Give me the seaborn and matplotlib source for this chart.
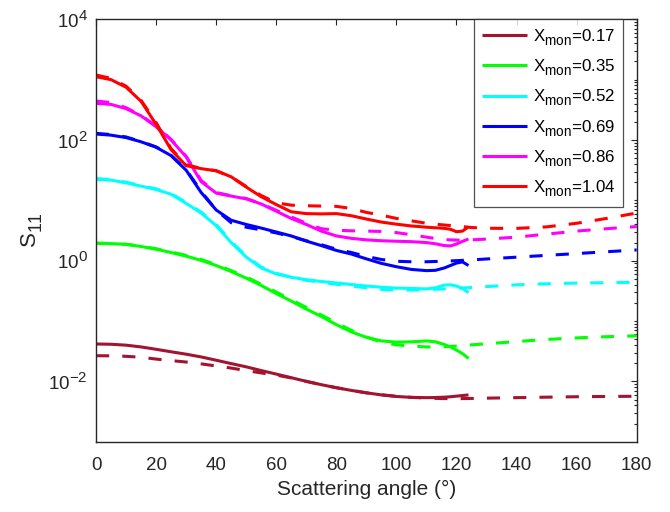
import matplotlib
matplotlib.use("Agg")
import matplotlib.pyplot as plt
import matplotlib._mathtext as _mt
import seaborn as sns
from matplotlib.ticker import FixedLocator, NullFormatter

# ---------------- data ----------------
x_mon = ["0.17", "0.35", "0.52", "0.69", "0.86", "1.04"]
colors = ["#A2142F", "#00FF00", "#00FFFF", "#0000FF", "#FF00FF", "#FF0000"]

# measured curves (solid)
ang_solid = [0, 5, 10, 15, 20, 25, 30, 35, 40, 45, 50, 55, 60, 65, 70, 75, 80, 85,
             90, 95, 100, 105, 110, 113, 116, 118, 120, 122, 124]
s_017 = [0.0416, 0.0412, 0.0398, 0.0372, 0.0340, 0.0309, 0.0282, 0.0254, 0.0224, 0.0197,
         0.0174, 0.0151, 0.0132, 0.0115, 0.0100, 0.00881, 0.00785, 0.00708, 0.00646,
         0.00596, 0.00562, 0.00543, 0.00537, 0.00540, 0.00547, 0.00556, 0.00569, 0.00582, 0.00596]
s_035 = [1.941, 1.919, 1.862, 1.718, 1.549, 1.365, 1.189, 1.012, 0.832, 0.661, 0.513, 0.389,
         0.285, 0.214, 0.158, 0.119, 0.0871, 0.0661, 0.0537, 0.0468, 0.0447, 0.0452, 0.0468,
         0.0452, 0.0407, 0.0372, 0.0331, 0.0288, 0.0240]
s_052 = [22.28, 21.63, 19.50, 17.18, 15.14, 12.59, 8.913, 6.166, 3.802, 1.995, 1.148, 0.759,
         0.603, 0.531, 0.484, 0.452, 0.427, 0.403, 0.380, 0.363, 0.351, 0.347, 0.340, 0.355,
         0.394, 0.398, 0.380, 0.347, 0.295]
s_069 = [125.6, 120.2, 109.6, 93.3, 75.9, 55.0, 31.6, 13.49, 6.918, 4.677, 3.981, 3.467, 2.985,
         2.570, 2.113, 1.778, 1.479, 1.288, 1.072, 0.902, 0.794, 0.716, 0.684, 0.692, 0.759,
         0.832, 0.912, 0.955, 0.832]
s_086 = [405.5, 389.0, 331.1, 251.2, 166.0, 100.0, 52.48, 20.42, 13.18, 11.75, 10.59, 8.710,
         6.607, 5.012, 3.981, 3.090, 2.570, 2.344, 2.213, 2.138, 2.099, 2.065, 1.995, 1.905,
         1.778, 1.758, 1.884, 2.089, 2.291]
s_104 = [1119.4, 1000.0, 750.0, 437.0, 182.0, 69.0, 37.58, 33.50, 30.90, 24.55, 16.60, 11.48,
         8.511, 6.457, 6.026, 5.957, 6.026, 5.559, 4.898, 4.365, 4.027, 3.758, 3.589, 3.508,
         3.428, 3.311, 3.020, 3.090, 3.631]

# computed curves (dashed)
ang_dash = [0, 5, 10, 15, 20, 25, 30, 35, 40, 45, 50, 55, 60, 65, 70, 75, 80, 85, 90, 95,
            100, 105, 110, 115, 120, 125, 130, 140, 150, 160, 170, 180]
d_017 = [0.0266, 0.0265, 0.0260, 0.0251, 0.0234, 0.0221, 0.0209, 0.0195, 0.0180, 0.0166,
         0.0151, 0.0138, 0.0127, 0.0114, 0.0100, 0.00881, 0.00785, 0.00708, 0.00646, 0.00600,
         0.00565, 0.00543, 0.00528, 0.00519, 0.00516, 0.00521, 0.00527, 0.00537, 0.00547,
         0.00556, 0.00562, 0.00566]
d_035 = [1.950, 1.928, 1.871, 1.738, 1.578, 1.396, 1.225, 1.047, 0.861, 0.684, 0.537, 0.407,
         0.302, 0.226, 0.168, 0.126, 0.0933, 0.0700, 0.0543, 0.0447, 0.0403, 0.0385, 0.0372,
         0.0372, 0.0385, 0.0403, 0.0419, 0.0457, 0.0495, 0.0525, 0.0550, 0.0569]
d_052 = [22.91, 22.13, 19.95, 17.58, 15.49, 12.88, 9.226, 6.383, 3.981, 2.089, 1.189, 0.785,
         0.617, 0.531, 0.473, 0.437, 0.407, 0.380, 0.355, 0.335, 0.327, 0.326, 0.331, 0.339,
         0.349, 0.359, 0.372, 0.398, 0.414, 0.425, 0.432, 0.439]
d_069 = [128.8, 123.0, 112.2, 94.4, 76.7, 55.6, 32.36, 14.13, 6.918, 4.266, 3.589, 3.236,
         2.884, 2.512, 2.138, 1.841, 1.549, 1.365, 1.175, 1.047, 0.977, 0.959, 0.959, 0.977,
         1.000, 1.030, 1.067, 1.143, 1.225, 1.312, 1.406, 1.507]
d_086 = [442.6, 416.9, 342.8, 257.0, 169.8, 102.3, 53.70, 21.38, 13.49, 11.89, 10.72, 8.810,
         6.839, 5.309, 4.169, 3.388, 3.199, 3.126, 3.090, 3.055, 2.917, 2.692, 2.455, 2.249,
         2.188, 2.213, 2.280, 2.455, 2.754, 3.090, 3.388, 3.673]
d_104 = [1194, 1050, 780.0, 455.0, 195.0, 72.0, 38.90, 33.88, 30.90, 24.55, 16.98, 12.02,
         9.120, 8.318, 8.128, 8.035, 7.943, 7.328, 6.310, 5.689, 5.012, 4.571, 4.169, 3.936,
         3.750, 3.548, 3.443, 3.428, 3.631, 4.169, 5.012, 6.166]

solid_series = [s_017, s_035, s_052, s_069, s_086, s_104]
dash_series = [d_017, d_035, d_052, d_069, d_086, d_104]

x_ticks = [0, 20, 40, 60, 80, 100, 120, 140, 160, 180]
y_major = [1e-2, 1e0, 1e2, 1e4]
y_major_labels = [r"$10^{-2}$", r"$10^{0}$", r"$10^{2}$", r"$10^{4}$"]

# ---------------- style ----------------
sns.set_theme(style="white")
plt.rcParams["font.family"] = ["Liberation Sans", "DejaVu Sans"]
plt.rcParams["mathtext.fontset"] = "custom"
plt.rcParams["mathtext.rm"] = "Liberation Sans"
plt.rcParams["mathtext.it"] = "Liberation Sans:italic"
plt.rcParams["mathtext.bf"] = "Liberation Sans:bold"
plt.rcParams["lines.dashed_pattern"] = [4.3, 4.3]
plt.rcParams["lines.solid_joinstyle"] = "round"
plt.rcParams["lines.solid_capstyle"] = "butt"
# MATLAB-like (larger, lower) sub/superscripts
_mt.SHRINK_FACTOR = 0.8
_mt.FontConstantsBase.sub1 = 0.55
_mt.FontConstantsBase.sub2 = 0.7

axis_col = "#262626"
fig = plt.figure(figsize=(6.7, 5.12), dpi=100)
ax = fig.add_axes([0.1433, 0.1373, 0.807, 0.825])

lw = 2.2
handles = []
for vals_s, vals_d, col in zip(solid_series, dash_series, colors):
    sns.lineplot(x=ang_solid, y=vals_s, ax=ax, color=col, lw=lw, linestyle="-")
    handles.append(ax.lines[-1])
    sns.lineplot(x=ang_dash, y=vals_d, ax=ax, color=col, lw=lw, linestyle="--")

ax.set_yscale("log")
ax.set_xlim(0, 180)
ax.set_ylim(1e-3, 1e4)

ax.xaxis.set_major_locator(FixedLocator(x_ticks))
ax.set_xticklabels([str(t) for t in x_ticks])
ax.yaxis.set_major_locator(FixedLocator(y_major))
ax.set_yticklabels(y_major_labels)
minor = []
for e in range(-3, 4):
    for k in range(1, 10):
        v = k * 10.0 ** e
        if 1e-3 < v < 1e4 and v not in y_major:
            minor.append(v)
ax.yaxis.set_minor_locator(FixedLocator(minor))
ax.yaxis.set_minor_formatter(NullFormatter())
ax.xaxis.set_minor_locator(FixedLocator([]))

for sp in ax.spines.values():
    sp.set_color(axis_col)
    sp.set_linewidth(1.0)
ax.tick_params(which="both", direction="in", top=True, right=True, colors=axis_col,
               labelcolor=axis_col, labelsize=13.5)
ax.tick_params(which="major", length=4, width=0.8)
ax.tick_params(which="minor", length=2.2, width=0.8)
ax.tick_params(axis="x", which="major", pad=11)
ax.tick_params(axis="y", which="major", pad=6)

ax.set_xlabel("Scattering angle (°)", fontsize=15, color=axis_col, labelpad=4)
ax.set_ylabel(r"S$_{11}$", fontsize=16, color=axis_col, labelpad=2)

labels = [r"X$_{\mathrm{mon}}$=" + v for v in x_mon]
leg = ax.legend(handles, labels, loc="upper right", bbox_to_anchor=(0.9752, 1.0),
                borderaxespad=0, frameon=True, fancybox=False, fontsize=12.2,
                handlelength=2.7, handletextpad=0.35, labelspacing=0.55,
                borderpad=0.45)
leg.get_frame().set_edgecolor(axis_col)
leg.get_frame().set_linewidth(0.9)
for t in leg.get_texts():
    t.set_color("black")

fig.savefig("out.png", dpi=100)
